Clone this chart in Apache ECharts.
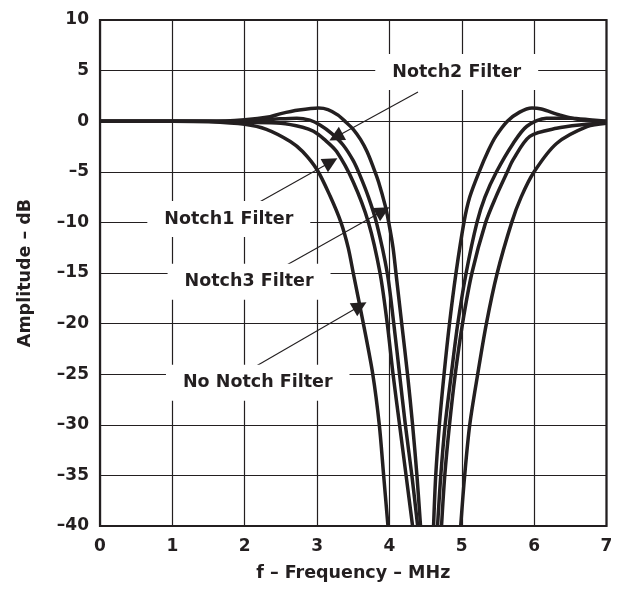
<!DOCTYPE html>
<html>
<head>
<meta charset="utf-8">
<title>Notch filter amplitude response</title>
<script src="https://cdn.jsdelivr.net/npm/echarts@6/dist/echarts.min.js"></script>
<style>
  html, body { margin: 0; padding: 0; background: #ffffff; }
  #chart { width: 620px; height: 591px; }
</style>
</head>
<body>
<div id="chart"></div>
<script>
// Frequency (MHz) and amplitude (dB) for each filter response.
// A null entry marks the notch floor, which lies below the plotted range.
const noNotchFreq = [0, 1, 1.5, 2.0, 2.3, 2.63, 2.8, 3.0, 3.18, 3.33, 3.43, 3.5, 3.64, 3.77, 3.86, 3.92, 3.98,
  null, 4.985, 5.04, 5.11, 5.22, 5.34, 5.49, 5.69, 5.82, 6.0, 6.31, 6.73, 7];
const noNotchDb = [0, 0, -0.05, -0.3, -0.8, -2.0, -3.0, -4.8, -7.4, -10, -12.5, -15, -20, -25, -30, -35, -40,
  null, -40, -35, -30, -25, -20, -15, -10, -7.5, -5, -2.2, -0.54, -0.2];

const notch1Freq = [0, 1.5, 2.0, 2.5, 2.8, 2.95, 3.1, 3.27, 3.5, 3.71, 3.87, 3.97, 4.05, 4.14, 4.23, 4.32,
  null, 4.72, 4.765, 4.83, 4.91, 5.01, 5.14, 5.33, 5.47, 5.63, 5.71, 5.94, 6.31, 6.73, 7];
const notch1Db = [0, 0, -0.1, -0.2, -0.6, -1.0, -1.8, -3.0, -6.0, -10, -15, -20, -25, -30, -35, -40,
  null, -40, -35, -30, -25, -20, -15, -10, -7.5, -5, -3.8, -1.5, -0.7, -0.3, -0.1];

const notch3Freq = [0, 1.5, 2.0, 2.4, 2.72, 2.9, 3.04, 3.2, 3.36, 3.5, 3.59, 3.71, 3.82, 3.97, 4.06, 4.14, 4.22, 4.31, 4.39,
  null, 4.665, 4.71, 4.77, 4.855, 4.945, 5.06, 5.21, 5.32, 5.48, 5.71, 5.9, 6.17, 6.5, 6.8, 7];
const notch3Db = [0, 0, 0.05, 0.2, 0.3, 0.1, -0.37, -1.2, -2.35, -3.9, -5.3, -7.5, -10, -15, -20, -25, -30, -35, -40,
  null, -40, -35, -30, -25, -20, -15, -10, -7.5, -5, -2.2, -0.5, 0.29, 0.3, 0.12, 0];

const notch2Freq = [0, 1.5, 2.0, 2.35, 2.5, 2.75, 3.02, 3.15, 3.29, 3.4, 3.5, 3.6, 3.69, 3.78, 3.85, 3.94, 3.99, 4.05, 4.09, 4.17, 4.25, 4.32, 4.38, 4.43,
  null, 4.61, 4.64, 4.69, 4.755, 4.83, 4.92, 5.03, 5.11, 5.24, 5.37, 5.47, 5.63, 5.8, 5.97, 6.1, 6.36, 6.63, 7];
const notch2Db = [0, 0, 0.15, 0.45, 0.75, 1.1, 1.3, 1.15, 0.6, -0.1, -0.8, -1.8, -3.0, -4.6, -6.0, -8.3, -10, -12.5, -15, -20, -25, -30, -35, -40,
  null, -40, -35, -30, -25, -20, -15, -10, -7.5, -5, -2.85, -1.5, 0, 0.9, 1.3, 1.2, 0.6, 0.15, 0];

// Axis ticks
const freqTicks = [0, 1, 2, 3, 4, 5, 6, 7];
const dbTicks = [10, 5, 0, -5, -10, -15, -20, -25, -30, -35, -40];

// Callout labels (text centre) and their leader arrows (start -> tip), in data units
const calloutText = ['Notch2 Filter', 'Notch1 Filter', 'Notch3 Filter', 'No Notch Filter'];
const calloutFreq = [4.93, 1.78, 2.06, 2.18];
const calloutDb = [4.86, -9.66, -15.86, -25.84];
const arrowFromFreq = [4.395, 2.18, 2.58, 2.142];
const arrowFromDb = [2.89, -8.08, -14.2, -24.26];
const arrowToFreq = [3.26, 3.19, 3.91, 3.593];
const arrowToDb = [-1.56, -4.03, -8.87, -18.26];

const INK = '#231f20';
const FONT = '"DejaVu Sans", "Liberation Sans", Arial, sans-serif';

function toPoints(freq, db) {
  return freq.map((f, i) => (f === null ? ['-', '-'] : [f, db[i]]));
}

function responseSeries(name, freq, db) {
  return {
    name: name,
    type: 'line',
    data: toPoints(freq, db),
    showSymbol: false,
    symbol: 'none',
    smooth: 0.3,
    connectNulls: false,
    clip: true,
    lineStyle: { color: INK, width: 3.5 },
    silent: true,
    z: 3
  };
}

const dash = (v) => (v < 0 ? '\u2013' + Math.abs(v) : String(v));

const chart = echarts.init(document.getElementById('chart'), null, { renderer: 'canvas' });

chart.setOption({
  animation: false,
  backgroundColor: '#ffffff',
  textStyle: { fontFamily: FONT },
  grid: {
    left: 100, right: 13.5, top: 20, bottom: 65,
    show: true, borderColor: INK, borderWidth: 2.2, backgroundColor: 'transparent'
  },
  xAxis: {
    type: 'value',
    min: freqTicks[0], max: freqTicks[freqTicks.length - 1], interval: 1,
    name: 'f \u2013 Frequency \u2013 MHz',
    nameLocation: 'middle', nameGap: 38,
    nameTextStyle: { color: INK, fontFamily: FONT, fontWeight: 'bold', fontSize: 17.5 },
    axisLine: { show: false },
    axisTick: { show: false },
    axisLabel: { color: INK, fontFamily: FONT, fontWeight: 'bold', fontSize: 17, margin: 12 },
    splitLine: { show: true, lineStyle: { color: INK, width: 1.2 } }
  },
  yAxis: {
    type: 'value',
    min: dbTicks[dbTicks.length - 1], max: dbTicks[0], interval: 5,
    name: 'Amplitude \u2013 dB',
    nameLocation: 'middle', nameGap: 66,
    nameTextStyle: { color: INK, fontFamily: FONT, fontWeight: 'bold', fontSize: 17.5 },
    axisLine: { show: false },
    axisTick: { show: false },
    axisLabel: { color: INK, fontFamily: FONT, fontWeight: 'bold', fontSize: 17, margin: 11, formatter: dash },
    splitLine: { show: true, lineStyle: { color: INK, width: 1.2 } }
  },
  series: [
    responseSeries('No Notch Filter', noNotchFreq, noNotchDb),
    responseSeries('Notch1 Filter', notch1Freq, notch1Db),
    responseSeries('Notch3 Filter', notch3Freq, notch3Db),
    responseSeries('Notch2 Filter', notch2Freq, notch2Db),
    {
      name: 'callouts',
      type: 'scatter',
      silent: true,
      symbolSize: 1,
      itemStyle: { color: 'rgba(0,0,0,0)', opacity: 1 },
      z: 5,
      data: calloutText.map((t, i) => ({ name: t, value: [calloutFreq[i], calloutDb[i]] })),
      label: {
        show: true,
        position: 'inside',
        formatter: (p) => p.name,
        color: INK,
        opacity: 1,
        fontFamily: FONT,
        fontWeight: 'bold',
        fontSize: 17.5,
        backgroundColor: '#ffffff',
        padding: [9, 17]
      },
      markLine: {
        silent: true,
        symbol: ['none', 'triangle'],
        symbolSize: 15,
        label: { show: false },
        emphasis: { disabled: true },
        itemStyle: { color: INK },
        lineStyle: { color: INK, width: 1.1, type: 'solid', opacity: 1 },
        data: arrowFromFreq.map((f, i) => [
          { coord: [f, arrowFromDb[i]] },
          { coord: [arrowToFreq[i], arrowToDb[i]] }
        ])
      }
    }
  ]
});
</script>
</body>
</html>
